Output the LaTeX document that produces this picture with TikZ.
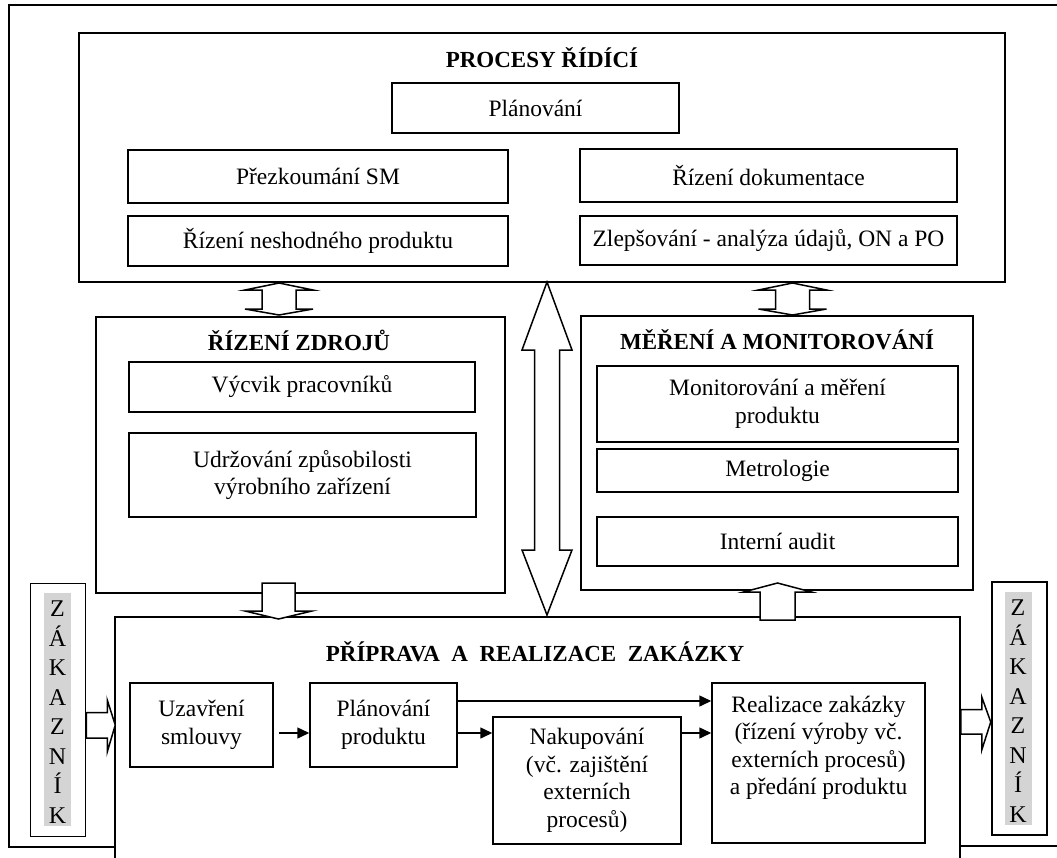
\documentclass[tikz,border=0pt]{standalone}
\usepackage{fontspec}
\setmainfont{Liberation Serif}
\usetikzlibrary{arrows.meta}

\begin{document}
\begin{tikzpicture}[x=1pt, y=-1pt, >={Triangle[length=12pt, width=11pt]},
    font=\fontsize{23.5}{27.5}\selectfont,
    frame/.style={line width=1.6pt},
    box/.style={draw, line width=1.5pt, align=center, inner sep=0pt},
    title/.style={font=\fontsize{23}{27}\selectfont\bfseries},
    flow/.style={->, line width=1.5pt},
    blockarrow/.style={draw, fill=white, line width=1.5pt, line join=miter},
    zak/.style={draw, line width=1.5pt, minimum width=55pt, minimum height=253pt},
    zakfill/.style={fill=black!17, minimum width=27pt, minimum height=233pt, inner sep=0pt},
    letters/.style={align=center, inner sep=0pt, font=\fontsize{24}{29.5}\selectfont}]
    \useasboundingbox (0,0) rectangle (1057,857);
    \clip (0,0) rectangle (1057,857);
    % Outer frame (open at the right)
    \draw[frame] (1057,5) -- (9,5) -- (9,847) -- (115,847);
    \draw[frame] (960,846) -- (1057,846);
%
    % Procesy ridici
    \node[box, minimum width=926pt, minimum height=249pt] (ridici) at (542,157.5) {};
    \node[title] (riditit) at (542,58) {PROCESY ŘÍDÍCÍ};
    \node[box, minimum width=287pt, minimum height=50pt] (planovani) at (535.5,108) {Plánování};
    \node[box, minimum width=380pt, minimum height=53pt] (prezkoumani) at (318,176.5) {Přezkoumání SM};
    \node[box, minimum width=380pt, minimum height=50pt] (neshodny) at (318,241) {Řízení neshodného produktu};
    \node[box, minimum width=377pt, minimum height=53pt] (dokumentace) at (768.5,175.5) {Řízení dokumentace};
    \node[box, minimum width=377pt, minimum height=49pt] (zlepsovani) at (768.5,240.5) {Zlepšování - analýza údajů, ON a PO};
%
    % Rizeni zdroju
    \node[box, minimum width=409pt, minimum height=276pt] (zdroje) at (300.5,455) {};
    \node[title] (zdrojetit) at (299,340) {ŘÍZENÍ ZDROJŮ};
    \node[box, minimum width=346pt, minimum height=50pt] (vycvik) at (302,387) {Výcvik pracovníků};
    \node[box, minimum width=347pt, minimum height=84pt] (udrzovani) at (302.5,475) {Udržování způsobilosti\\výrobního zařízení};
%
    % Mereni a monitorovani
    \node[box, minimum width=392pt, minimum height=274pt] (mereni) at (777,453) {};
    \node[title] (merenitit) at (777,340) {MĚŘENÍ A MONITOROVÁNÍ};
    \node[box, minimum width=361pt, minimum height=76pt] (monitorovani) at (777.5,404) {Monitorování a měření\\produktu};
    \node[box, minimum width=361pt, minimum height=43pt] (metrologie) at (777.5,470.5) {Metrologie};
    \node[box, minimum width=361pt, minimum height=49pt] (audit) at (777.5,541.5) {Interní audit};
%
    % Priprava a realizace zakazky
    \node[box, minimum width=845pt, minimum height=286pt] (priprava) at (537.5,760) {};
    \node[title] (pripravatit) at (535,652) {PŘÍPRAVA\ \ A\ \ REALIZACE\ \ ZAKÁZKY};
    \node[box, minimum width=143pt, minimum height=84pt] (uzavreni) at (201.5,725) {Uzavření\\smlouvy};
    \node[box, minimum width=147pt, minimum height=84pt] (planprod) at (383.5,725) {Plánování\\produktu};
    \node[box, minimum width=188pt, minimum height=127pt] (nakup) at (587,780.5) {Nakupování\\(vč. zajištění\\externích\\procesů)};
    \node[box, minimum width=213pt, minimum height=160pt] (realizace) at (818.5,763) {};
    \node[align=center] (realtext) at (818.5,748) {Realizace zakázky\\(řízení výroby vč.\\externích procesů)\\a předání produktu};
%
    \coordinate (hirow) at (0,701);
    \coordinate (lowrow) at (0,733);
    \draw[flow, shorten <=5pt] (uzavreni.east |- lowrow) -- (planprod.west |- lowrow);
    \draw[flow] (planprod.east |- lowrow) -- (nakup.west |- lowrow);
    \draw[flow] (planprod.east |- hirow) -- (realizace.west |- hirow);
    \draw[flow] (nakup.east |- lowrow) -- (realizace.west |- lowrow);
%
    % Zakaznik
    \node[zakfill] (zakLfill) at (57.5,709.5) {};
    \node[zak] (zakL) at (58,710) {};
    \node[letters] (zakLtext) at (57.5,712) {Z\\Á\\K\\A\\Z\\N\\Í\\K};
    \node[zakfill] (zakRfill) at (1018,708.5) {};
    \node[zak] (zakR) at (1019.5,708.5) {};
    \node[letters] (zakRtext) at (1018,711) {Z\\Á\\K\\A\\Z\\N\\Í\\K};
%
    % Block arrows
    \begin{scope}[shift={(279,283)}]
        \draw[blockarrow] (0,0) -- (34,7) -- (17,7) -- (17,26) -- (34,26) -- (0,32)
            -- (-34,26) -- (-17,26) -- (-17,7) -- (-34,7) -- cycle;
    \end{scope}
    \begin{scope}[shift={(792.5,283)}]
        \draw[blockarrow] (0,0) -- (34,7) -- (17,7) -- (17,26) -- (34,26) -- (0,32)
            -- (-34,26) -- (-17,26) -- (-17,7) -- (-34,7) -- cycle;
    \end{scope}
    \begin{scope}[shift={(547,282)}]
        \draw[blockarrow] (0,0) -- (25,68) -- (12.5,68) -- (12.5,268) -- (25,268) -- (0,333)
            -- (-25,268) -- (-12.5,268) -- (-12.5,68) -- (-25,68) -- cycle;
    \end{scope}
    \begin{scope}[shift={(278.5,583)}]
        \draw[blockarrow] (-16.5,0) -- (16.5,0) -- (16.5,28) -- (33.5,28) -- (0,36)
            -- (-33.5,28) -- (-16.5,28) -- cycle;
    \end{scope}
    \begin{scope}[shift={(777.5,620)}]
        \draw[blockarrow] (-17.5,0) -- (17.5,0) -- (17.5,-28) -- (34,-28) -- (0,-37)
            -- (-34,-28) -- (-17.5,-28) -- cycle;
    \end{scope}
    \begin{scope}[shift={(zakL.east |- 0,725)}]
        \draw[blockarrow] (0,-12.5) -- (21,-12.5) -- (21,-25) -- (29,0) -- (21,27)
            -- (21,13) -- (0,13) -- cycle;
    \end{scope}
    \begin{scope}[shift={(priprava.east |- 0,722)}]
        \draw[blockarrow] (0,-12.5) -- (21,-12.5) -- (21,-25) -- (30,0) -- (21,28)
            -- (21,12) -- (0,12) -- cycle;
    \end{scope}
\end{tikzpicture}
\end{document}
